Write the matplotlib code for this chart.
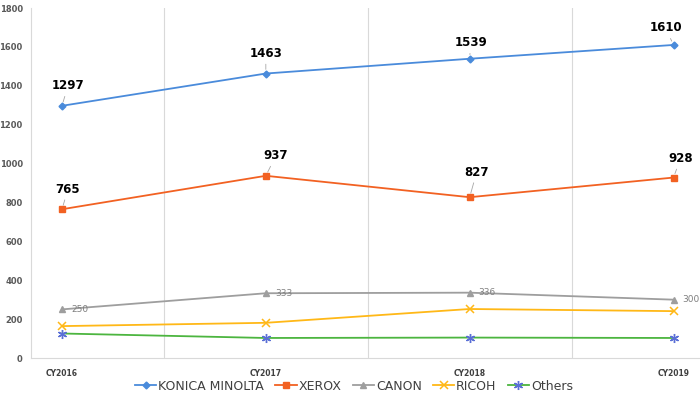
import matplotlib
matplotlib.use("Agg")
import matplotlib.pyplot as plt
from matplotlib.lines import Line2D

categories = ["CY2016", "CY2017", "CY2018", "CY2019"]
konica = [1297, 1463, 1539, 1610]
xerox = [765, 937, 827, 928]
canon = [250, 333, 336, 300]
ricoh = [164, 181, 252, 241]
others = [126, 103, 105, 103]
y_ticks = [0, 200, 400, 600, 800, 1000, 1200, 1400, 1600, 1800]

C_K, C_X, C_C, C_R, C_O, C_OM = "#4A8BDB", "#F26122", "#9E9E9E", "#FFB817", "#4CB53F", "#5A6FD6"

fig = plt.figure(figsize=(7, 3.99), dpi=100)
ax = fig.add_axes([31/700, 41/399, 669/700, 350/399])

x = list(range(len(categories)))
lw = 1.3
ax.plot(x, konica, color=C_K, marker="D", markersize=3.5, lw=lw)
ax.plot(x, xerox, color=C_X, marker="s", markersize=4.5, lw=lw)
ax.plot(x, canon, color=C_C, marker="^", markersize=5, lw=lw)
ax.plot(x, ricoh, color=C_R, marker="x", markersize=6, mew=1.1, lw=lw)
ax.plot(x, others, color=C_O, lw=lw)
ax.plot(x, others, color=C_OM, marker=(6, 2, 0), markersize=6.5, mew=1.0, lw=0)

handles = [
    Line2D([], [], color=C_K, marker="D", markersize=3.5, lw=lw),
    Line2D([], [], color=C_X, marker="s", markersize=4.5, lw=lw),
    Line2D([], [], color=C_C, marker="^", markersize=5, lw=lw),
    Line2D([], [], color=C_R, marker="x", markersize=6, mew=1.1, lw=lw),
    Line2D([], [], color=C_O, marker=(6, 2, 0), markeredgecolor=C_OM, markersize=6.5, lw=lw),
]
labels = ["KONICA MINOLTA", "XEROX", "CANON", "RICOH", "Others"]
fig.legend(handles, labels, loc="center", bbox_to_anchor=(354/700, 13/399), ncol=5,
           frameon=False, fontsize=9, labelcolor="#404040", handlelength=1.7,
           handletextpad=0.15, columnspacing=0.9, borderaxespad=0)

k_off = [(6, 20), (0, 20), (1, 16), (-8, 17)]
x_off = [(6, 20), (10, 20), (7, 25), (7, 19)]
arrow = dict(arrowstyle="-", color="#A6A6A6", lw=0.6, shrinkA=1, shrinkB=3)
for i, v in enumerate(konica):
    ax.annotate(str(v), (x[i], v), xytext=k_off[i], textcoords="offset pixels",
                ha="center", va="center", fontsize=8.5, fontweight="bold", color="black",
                arrowprops=arrow)
for i, v in enumerate(xerox):
    ax.annotate(str(v), (x[i], v), xytext=x_off[i], textcoords="offset pixels",
                ha="center", va="center", fontsize=8.5, fontweight="bold", color="black",
                arrowprops=arrow)
for i, v in enumerate(canon):
    ax.annotate(str(v), (x[i], v), xytext=(9, 0), textcoords="offset pixels",
                ha="left", va="center", fontsize=6.5, color="#7F7F7F")

ax.set_xlim(-0.152, 3.13)
ax.set_ylim(0, 1800)
ax.set_yticks(y_ticks)
ax.set_yticklabels([str(t) for t in y_ticks], fontsize=6, fontweight="bold", color="#595959")
ax.set_xticks(x)
ax.set_xticklabels(categories, fontsize=5.5, fontweight="bold", color="#404040")
ax.tick_params(axis="both", length=0)
ax.tick_params(axis="y", pad=6)
ax.tick_params(axis="x", pad=8)
for xv in [0.5, 1.5, 2.5]:
    ax.axvline(xv, color="#D9D9D9", lw=0.8, zorder=0)
for s in ["top", "right"]:
    ax.spines[s].set_visible(False)
ax.spines["left"].set_color("#D9D9D9")
ax.spines["bottom"].set_color("#D9D9D9")

fig.savefig("out.png", dpi=100)
